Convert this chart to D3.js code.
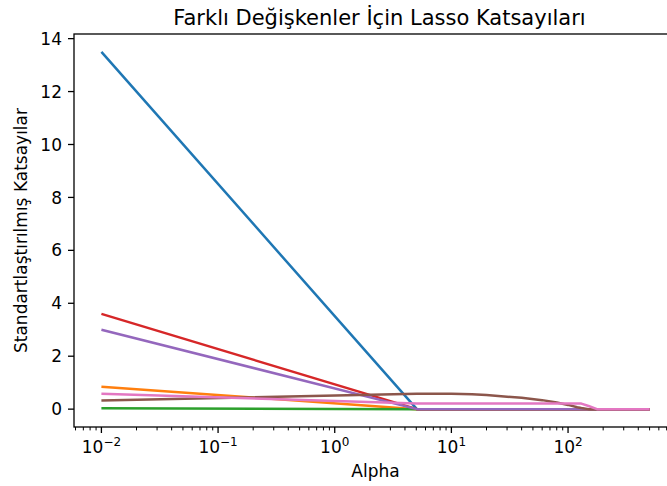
<!DOCTYPE html>
<html lang="tr">
<head>
    <meta charset="UTF-8">
    <style>
        body { margin: 0; background: #fff; }
        text { font-family: "DejaVu Sans", sans-serif; fill: #000; }
    </style>
    <title>Lasso</title>
    <script src="https://d3js.org/d3.v7.min.js"></script>
</head>
<body>

<div id="chart"></div>

<script>

    // data
    const alphas = [0.01, 5.06, 10, 15, 20, 30, 40, 60, 80, 100, 120, 130, 150, 177, 300, 500]
    const blue   = [13.5, 0, 0, 0, 0, 0, 0, 0, 0, 0, 0, 0, 0, 0, 0, 0]
    const orange = [0.85, 0, 0, 0, 0, 0, 0, 0, 0, 0, 0, 0, 0, 0, 0, 0]
    const green  = [0.03, 0, 0, 0, 0, 0, 0, 0, 0, 0, 0, 0, 0, 0, 0, 0]
    const red    = [3.6, 0, 0, 0, 0, 0, 0, 0, 0, 0, 0, 0, 0, 0, 0, 0]
    const purple = [3.0, 0, 0, 0, 0, 0, 0, 0, 0, 0, 0, 0, 0, 0, 0, 0]
    const brown  = [0.33, 0.58, 0.58, 0.56, 0.53, 0.47, 0.43, 0.34, 0.25, 0.16, 0.07, 0.04, 0, 0, 0, 0]
    const pink   = [0.58, 0.21, 0.21, 0.21, 0.21, 0.21, 0.21, 0.21, 0.21, 0.21, 0.21, 0.21, 0.12, 0, 0, 0]

    const series = [blue, orange, green, red, purple, brown, pink]
    const colors = ["#1f77b4", "#ff7f0e", "#2ca02c", "#d62728", "#9467bd", "#8c564b", "#e377c2"]

    const yTicks = [0, 2, 4, 6, 8, 10, 12, 14]
    const xTicks = [-2, -1, 0, 1, 2]   // powers of ten

    const MARGIN = { LEFT: 74, TOP: 34 }
    const WIDTH = 603
    const HEIGHT = 393

    const svg = d3.select("#chart")
        .append("svg")
        .attr("width", 667)
        .attr("height", 486)

    const g = svg.append("g")
        .attr("transform", `translate(${MARGIN.LEFT}, ${MARGIN.TOP})`)

    // matplotlib style 5% margins (log space on x)
    const lx0 = Math.log10(0.01), lx1 = Math.log10(500)
    const padX = (lx1 - lx0) * 0.05
    const x = d3.scaleLog()
        .domain([Math.pow(10, lx0 - padX), Math.pow(10, lx1 + padX)])
        .range([0, WIDTH])

    const y = d3.scaleLinear()
        .domain([-0.675, 14.175])
        .range([HEIGHT, 0])

    // lines
    const line = d3.line()
        .x((d, i) => x(alphas[i]))
        .y(d => y(d))

    series.forEach((s, k) => {
        g.append("path")
            .datum(s)
            .attr("d", line)
            .attr("fill", "none")
            .attr("stroke", colors[k])
            .attr("stroke-width", 2.5)
            .attr("stroke-linejoin", "round")
            .attr("stroke-linecap", "butt")
    })

    // frame
    g.append("rect")
        .attr("x", 0).attr("y", 0)
        .attr("width", WIDTH).attr("height", HEIGHT)
        .attr("fill", "none")
        .attr("stroke", "#000")
        .attr("stroke-width", 1.3)

    // y axis
    const yAxis = g.append("g")
    yAxis.selectAll("line").data(yTicks).enter().append("line")
        .attr("x1", -6).attr("x2", 0)
        .attr("y1", d => y(d)).attr("y2", d => y(d))
        .attr("stroke", "#000").attr("stroke-width", 1.3)
    yAxis.selectAll("text").data(yTicks).enter().append("text")
        .attr("x", -12)
        .attr("y", d => y(d))
        .attr("dy", "0.36em")
        .attr("text-anchor", "end")
        .attr("font-size", "17px")
        .text(d => d)

    // x axis, major + minor log ticks
    const xAxis = g.append("g").attr("transform", `translate(0, ${HEIGHT})`)
    const minor = []
    for (let p = -3; p <= 2; p++) {
        for (let j = 2; j <= 9; j++) {
            const v = j * Math.pow(10, p)
            if (v >= x.domain()[0] && v <= x.domain()[1]) minor.push(v)
        }
    }
    xAxis.selectAll("line.minor").data(minor).enter().append("line")
        .attr("class", "minor")
        .attr("x1", d => x(d)).attr("x2", d => x(d))
        .attr("y1", 0).attr("y2", 3.4)
        .attr("stroke", "#000").attr("stroke-width", 1)
    xAxis.selectAll("line.major").data(xTicks).enter().append("line")
        .attr("class", "major")
        .attr("x1", d => x(Math.pow(10, d))).attr("x2", d => x(Math.pow(10, d)))
        .attr("y1", 0).attr("y2", 6)
        .attr("stroke", "#000").attr("stroke-width", 1.3)

    const xl = xAxis.selectAll("text").data(xTicks).enter().append("text")
        .attr("x", d => x(Math.pow(10, d)))
        .attr("y", 26)
        .attr("text-anchor", "middle")
        .attr("font-size", "17px")
    xl.append("tspan").text("10")
    xl.append("tspan")
        .attr("dy", -7)
        .attr("font-size", "12px")
        .text(d => d < 0 ? "\u2212" + Math.abs(d) : d)

    // labels
    g.append("text")
        .attr("x", WIDTH / 2)
        .attr("y", HEIGHT + 50)
        .attr("font-size", "17px")
        .attr("text-anchor", "middle")
        .text("Alpha")

    g.append("text")
        .attr("x", -(HEIGHT / 2))
        .attr("y", -47)
        .attr("font-size", "17px")
        .attr("text-anchor", "middle")
        .attr("transform", "rotate(-90)")
        .text("Standartlaştırılmış Katsayılar")

    g.append("text")
        .attr("x", WIDTH / 2 + 4)
        .attr("y", -9)
        .attr("font-size", "21px")
        .attr("text-anchor", "middle")
        .text("Farklı Değişkenler İçin Lasso Katsayıları")

</script>
</body>
</html>
